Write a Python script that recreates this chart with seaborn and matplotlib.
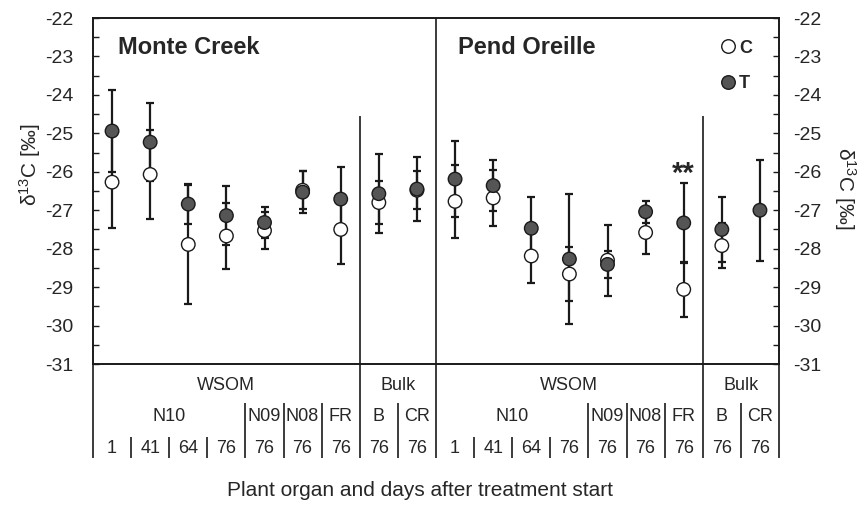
import numpy as np
import pandas as pd
import seaborn as sns
import matplotlib
matplotlib.use('Agg')
import matplotlib.pyplot as plt
from matplotlib.ticker import MultipleLocator
from matplotlib.transforms import blended_transform_factory

# values (delta13C, permil), 9 columns per site
sites = ['Monte Creek', 'Pend Oreille']
fraction = ['WSOM'] * 7 + ['Bulk'] * 2
organ = ['N10'] * 4 + ['N09', 'N08', 'FR', 'B', 'CR']
days = ['1', '41', '64', '76', '76', '76', '76', '76', '76']

c_mean = [-26.27, -26.07, -27.89, -27.67, -27.53, -26.48, -27.50, -26.80, -26.48,
          -26.77, -26.68, -28.19, -28.66, -28.30, -27.58, -29.06, -27.92, np.nan]
c_err = [1.20, 1.16, 1.55, 0.85, 0.48, 0.50, 0.90, 0.56, 0.50,
         0.94, 0.73, 0.71, 0.71, 0.92, 0.56, 0.71, 0.59, np.nan]
t_mean = [-24.94, -25.23, -26.84, -27.14, -27.32, -26.53, -26.71, -26.57, -26.45,
          -26.19, -26.36, -27.47, -28.27, -28.41, -27.04, -27.33, -27.50, -27.00]
t_err = [1.07, 1.01, 0.52, 0.77, 0.40, 0.54, 0.84, 1.03, 0.83,
         0.99, 0.67, 0.82, 1.69, 0.34, 0.29, 1.03, 0.84, 1.31]

n = len(t_mean)
pos = np.arange(n)
df = pd.DataFrame({
    'pos': np.concatenate([pos, pos]),
    'mean': c_mean + t_mean,
    'err': c_err + t_err,
    'trt': ['C'] * n + ['T'] * n,
})

sns.set_style('ticks')
plt.rcParams['font.family'] = ['Liberation Sans', 'DejaVu Sans']
plt.rcParams['mathtext.fontset'] = 'custom'
plt.rcParams['mathtext.rm'] = 'Liberation Sans'
plt.rcParams['mathtext.it'] = 'Liberation Sans:italic'
plt.rcParams['axes.unicode_minus'] = False

ink = '#1a1a1a'
fig = plt.figure(figsize=(8.57, 5.11), dpi=100)
ax = fig.add_axes([93 / 857, 1 - 364 / 511, 686 / 857, 346 / 511])

# error bars first, markers on top
for trt in ['C', 'T']:
    sub = df[df.trt == trt]
    ax.errorbar(sub['pos'], sub['mean'], yerr=sub['err'], fmt='none', ecolor=ink,
                elinewidth=1.6, capsize=3, capthick=1.6, zorder=2)

sns.scatterplot(data=df, x='pos', y='mean', hue='trt', palette={'C': 'white', 'T': '#555555'},
                s=95, edgecolor=ink, linewidth=1.0, zorder=3, ax=ax)

ax.set_xlim(-0.5, n - 0.5)
ax.set_ylim(-31, -22)
ax.set_xticks([])
ax.set_xlabel('')
ax.set_ylabel('')
ax.yaxis.set_major_locator(MultipleLocator(1))
ax.yaxis.set_minor_locator(MultipleLocator(0.5))
ax.tick_params(axis='y', which='both', direction='in', length=4, width=1, color=ink,
               labelsize=14, pad=14)
for sp in ax.spines.values():
    sp.set_linewidth(1.2)
    sp.set_color(ink)

ax2 = ax.twinx()
ax2.set_ylim(-31, -22)
ax2.yaxis.set_major_locator(MultipleLocator(1))
ax2.yaxis.set_minor_locator(MultipleLocator(0.5))
ax2.tick_params(axis='y', which='both', direction='in', length=4, width=1, color=ink,
                labelsize=14, pad=10)
for sp in ax2.spines.values():
    sp.set_linewidth(1.2)
    sp.set_color(ink)

# dividers inside the plot
half = len(days)
ax.axvline(half - 0.5, color=ink, lw=1.2)
bulk_start = [i for i in range(n) if fraction[i % half] == 'Bulk' and (i % half == 0 or fraction[i % half - 1] != 'Bulk')]
ax.vlines([b - 0.5 for b in bulk_start], -31, -24.55, color=ink, lw=1.2)

# category table below the axes
tr = blended_transform_factory(ax.transData, ax.transAxes)
y_bot, y_mid, y_low = -0.272, -0.113, -0.211
full_x, mid_x, low_x = [-0.5, n - 0.5], [], []
for i in range(1, n):
    j = i % half
    if j == 0 or fraction[j] != fraction[j - 1]:
        full_x.append(i - 0.5)
    elif organ[j] != organ[j - 1]:
        mid_x.append(i - 0.5)
    else:
        low_x.append(i - 0.5)
ax.vlines(full_x, 0, y_bot, transform=tr, clip_on=False, color=ink, lw=1.2)
ax.vlines(mid_x, y_mid, y_bot, transform=tr, clip_on=False, color=ink, lw=1.2)
ax.vlines(low_x, y_low, y_bot, transform=tr, clip_on=False, color=ink, lw=1.2)


def runs(labels):
    out, start = [], 0
    for k in range(1, len(labels) + 1):
        if k == len(labels) or labels[k] != labels[start]:
            out.append((labels[start], (start + k - 1) / 2))
            start = k
    return out


for s in range(len(sites)):
    off = s * half
    for lab, cx in runs(fraction):
        ax.text(off + cx, -0.061, lab, transform=tr, ha='center', va='center', fontsize=13)
    for lab, cx in runs(organ):
        ax.text(off + cx, -0.153, lab, transform=tr, ha='center', va='center', fontsize=13)
    for k, lab in enumerate(days):
        ax.text(off + k, -0.243, lab, transform=tr, ha='center', va='center', fontsize=13)

ax.text(0.036, 0.916, sites[0], transform=ax.transAxes, fontsize=17, fontweight='bold',
        ha='left', va='center')
ax.text(0.532, 0.916, sites[1], transform=ax.transAxes, fontsize=17, fontweight='bold',
        ha='left', va='center')
ax.text(15, -26.05, '**', ha='center', va='center', fontsize=21, fontweight='bold')

h, l = ax.get_legend_handles_labels()
ax.legend(h, l, loc='upper left', bbox_to_anchor=(0.9125, 0.937), frameon=False,
          prop={'weight': 'bold', 'size': 13}, handletextpad=0.1, labelspacing=1.0,
          handlelength=1.0, borderpad=0, borderaxespad=0)

ylab = 'δ$^{13}$C [‰]'
fig.text(30 / 857, 1 - 165 / 511, ylab, rotation=90, ha='center', va='center', fontsize=15)
fig.text(845 / 857, 1 - 188 / 511, ylab, rotation=270, ha='center', va='center', fontsize=15)
fig.text(420 / 857, 1 - 490 / 511, 'Plant organ and days after treatment start',
         ha='center', va='center', fontsize=15)

fig.savefig('out.png', dpi=100)
